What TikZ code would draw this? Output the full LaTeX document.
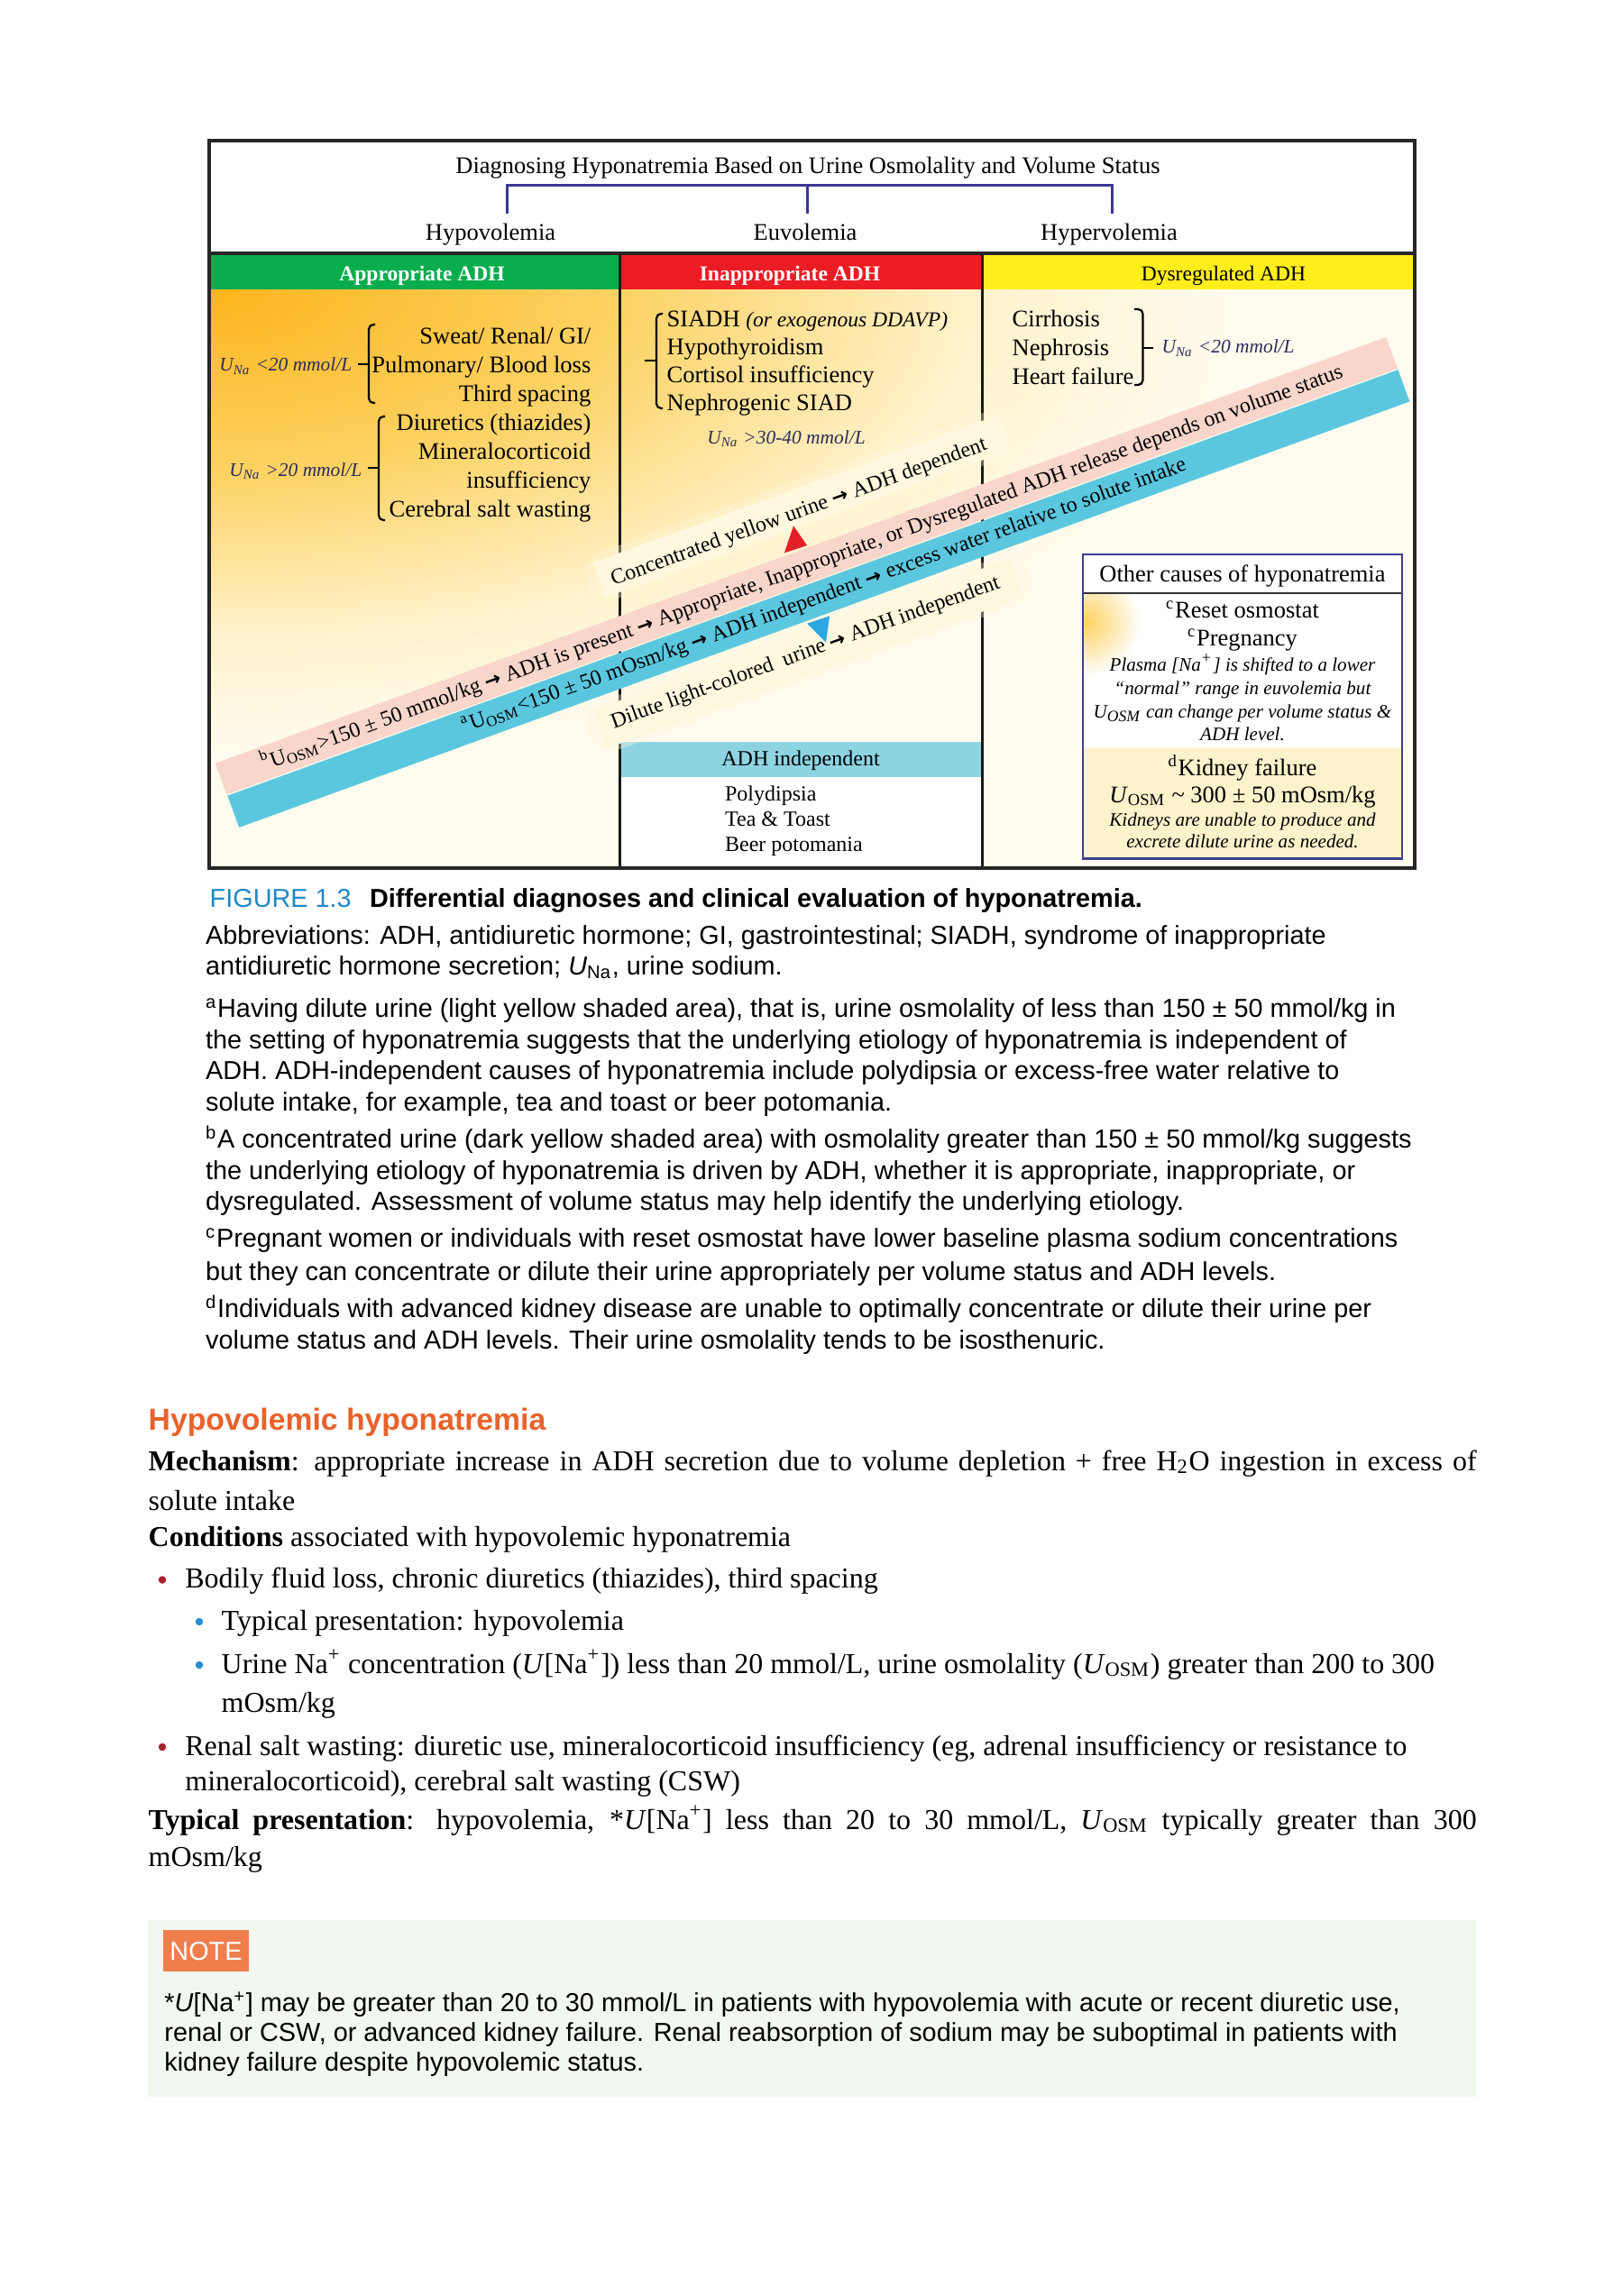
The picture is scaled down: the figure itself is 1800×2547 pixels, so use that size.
\documentclass[tikz,border=0pt]{standalone}
\usepackage{fontspec}
\setmainfont{Liberation Serif}
\setsansfont{Liberation Sans}
\newfontfamily\arrowfont{DejaVu Sans}

\definecolor{hdrgreen}{HTML}{0AAD4E}
\definecolor{hdrred}{HTML}{EC1C24}
\definecolor{hdryellow}{HTML}{FFEE1C}
\definecolor{glowA}{HTML}{FCB51C}
\definecolor{glowB}{HTML}{FDD263}
\definecolor{glowC}{HTML}{FFF2CC}
\definecolor{glowD}{HTML}{FFFBEE}
\definecolor{pinkband}{HTML}{F9D6CB}
\definecolor{cyanband}{HTML}{5BC7DF}
\definecolor{barcyan}{HTML}{8DD4E3}
\definecolor{palestrip}{HTML}{FFF8DE}
\definecolor{trired}{HTML}{E41E26}
\definecolor{triblue}{HTML}{2CA8E0}
\definecolor{bracketnavy}{HTML}{3A3794}
\definecolor{boxnavy}{HTML}{3F3F8F}
\definecolor{kidneybg}{HTML}{FCF2CB}
\definecolor{labelnavy}{HTML}{2C2C58}
\definecolor{figblue}{HTML}{1E88C8}
\definecolor{secorange}{HTML}{E8622B}
\definecolor{notebg}{HTML}{F2F7EF}
\definecolor{noteorange}{HTML}{F07E4D}
\definecolor{bulletred}{HTML}{A3222B}
\definecolor{bulletblue}{HTML}{2A8ED0}

\pgfdeclareradialshading{bodyglow}{\pgfpoint{0bp}{0bp}}{color(0bp)=(glowA); color(7.5bp)=(glowB); color(14.2bp)=(glowC); color(19bp)=(glowD); color(50bp)=(glowD)}

\newcommand{\dgmfont}{\fontsize{7.54}{9}\selectfont}
\newcommand{\hdrfont}{\fontsize{6.7}{8}\selectfont}
\newcommand{\bandfont}{\fontsize{6.83}{8}\selectfont}
\newcommand{\unafont}{\fontsize{6.1}{7}\selectfont\itshape}
\newcommand{\boxitfont}{\fontsize{6.0}{7}\selectfont\itshape}
\newcommand{\capfont}{\sffamily\fontsize{8.2}{9.8}\selectfont}
\newcommand{\bodyfont}{\fontsize{9.1}{11}\selectfont}
\newcommand{\sectfont}{\sffamily\bfseries\fontsize{9.6}{11}\selectfont}
\newcommand{\Uosm}{U\textsubscript{OSM}}
\newcommand{\Una}{U\textsubscript{Na}}
\newcommand{\rarr}{{\arrowfont\bfseries\fontsize{6.2}{7}\selectfont →}}

\begin{document}
\begin{tikzpicture}[x=0.1mm, y=-0.1mm,
  lbl/.style={inner sep=0pt, font=\dgmfont},
  hdr/.style={inner sep=0pt, font=\hdrfont, anchor=base},
  una/.style={inner sep=0pt, font=\unafont, text=labelnavy},
  bandtxt/.style={inner sep=0pt, font=\bandfont, anchor=base west},
  boxit/.style={inner sep=0pt, font=\boxitfont, anchor=base},
  captxt/.style={inner sep=0pt, font=\capfont, anchor=base west},
  bodytxt/.style={inner sep=0pt, font=\bodyfont, anchor=base west},
  brace/.style={line width=0.22mm, rounded corners=1.5},
  divline/.style={line width=0.3mm, draw=black!90},
  frame/.style={line width=0.4mm, draw=black!85},
  dotred/.style={circle, fill=bulletred, inner sep=0pt, minimum size=0.85mm},
  dotblue/.style={circle, fill=bulletblue, inner sep=0pt, minimum size=0.85mm}]
\useasboundingbox (0,0) rectangle (1800,2547);
\fill[white] (0,0) rectangle (1800,2547);

% header row
\fill[hdrgreen] (232,281) rectangle (687,322);
\fill[hdrred] (687,281) rectangle (1089,322);
\fill[hdryellow] (1089,281) rectangle (1569,322);

% shaded body, glow flattened vertically
\begin{scope}
  \clip (232,322) rectangle (1569,963);
  \fill[glowD] (232,322) rectangle (1569,963);
  \begin{scope}[transform canvas={yscale=0.45}]
    \shade[shading=bodyglow] (-1268,-784.4) rectangle (1732,2215.6);
  \end{scope}
\end{scope}
\fill[white] (687,862) rectangle (1089,963);
\fill[barcyan] (687,823) rectangle (1089,862);

\draw[divline] (687,281) -- (687,963);
\draw[divline] (1089,281) -- (1089,963);

% title and volume status
\node[lbl, anchor=base] (title) at (896,193) {Diagnosing Hyponatremia Based on Urine Osmolality and Volume Status};
\node[lbl, anchor=base] (hypo) at (544,267) {Hypovolemia};
\node[lbl, anchor=base] (euvo) at (893,267) {Euvolemia};
\node[lbl, anchor=base] (hyper) at (1230,267) {Hypervolemia};
\coordinate (brl) at (562,206);
\coordinate (brm) at (895,206);
\coordinate (brr) at (1233,206);
\draw[bracketnavy, line width=0.3mm] (562,237) -- (brl) -- (brr) -- (1233,237);
\draw[bracketnavy, line width=0.3mm] (brm) -- (895,237);

\node[hdr, text=white, font=\hdrfont\bfseries] (appr) at (468,311.5) {Appropriate ADH};
\node[hdr, text=white, font=\hdrfont\bfseries] (inappr) at (876,311.5) {Inappropriate ADH};
\node[hdr] (dysreg) at (1357,311.5) {Dysregulated ADH};

% appropriate ADH column
\node[lbl, anchor=base east] (sweat) at (656,381.5) {Sweat/ Renal/ GI/};
\node[lbl, anchor=base east] (pulm) at (656,413.5) {Pulmonary/ Blood loss};
\node[lbl, anchor=base east] (third) at (656,445.5) {Third spacing};
\node[lbl, anchor=base east] (diur) at (656,477.5) {Diuretics (thiazides)};
\node[lbl, anchor=base east] (miner) at (656,509.5) {Mineralocorticoid};
\node[lbl, anchor=base east] (insuf) at (656,541.5) {insufficiency};
\node[lbl, anchor=base east] (cereb) at (656,573.5) {Cerebral salt wasting};
\draw[brace] (416,360) -- (409,360) -- (409,447) -- (416,447);
\draw[brace] (409,404) -- (397,404);
\node[una, anchor=base east] (unalow) at (391,411.7) {\Una{} <20 mmol/L};
\draw[brace] (427,462) -- (420,462) -- (420,577) -- (427,577);
\draw[brace] (420,519) -- (408,519);
\node[una, anchor=base east] (unahigh) at (402,528) {\Una{} >20 mmol/L};

% inappropriate ADH column
\node[lbl, anchor=base west] (siadh) at (739,362.7) {SIADH {\hdrfont\itshape (or exogenous DDAVP)}};
\node[lbl, anchor=base west] (thyro) at (739,393.7) {Hypothyroidism};
\node[lbl, anchor=base west] (cortis) at (739,424.7) {Cortisol insufficiency};
\node[lbl, anchor=base west] (siad) at (739,455.7) {Nephrogenic SIAD};
\draw[brace] (735,348) -- (728,348) -- (728,453) -- (735,453);
\draw[brace] (728,400) -- (715,400);
\node[una, anchor=base] (unamid) at (872,492) {\Una{} >30-40 mmol/L};

% dysregulated ADH column
\node[lbl, anchor=base west] (cirr) at (1122,362.7) {Cirrhosis};
\node[lbl, anchor=base west] (nephr) at (1122,394.3) {Nephrosis};
\node[lbl, anchor=base west] (heart) at (1122,426) {Heart failure};
\draw[brace] (1258,343) -- (1267.5,343) -- (1267.5,427) -- (1258,427);
\draw[brace] (1267.5,386) -- (1279,386);
\node[una, anchor=base west] (unaright) at (1288,391.7) {\Una{} <20 mmol/L};

% ADH independent causes
\node[inner sep=0pt, font=\bandfont, anchor=base] (adhind) at (888,849.3) {ADH independent};
\node[inner sep=0pt, font=\bandfont, anchor=base west] (polyd) at (803.4,888) {Polydipsia};
\node[inner sep=0pt, font=\bandfont, anchor=base west] (teatoast) at (803.4,916) {Tea \& Toast};
\node[inner sep=0pt, font=\bandfont, anchor=base west] (beer) at (803.4,944) {Beer potomania};

% other causes box
\fill[white] (1201,615) rectangle (1555,830);
\begin{scope}
  \clip (1201,658) rectangle (1555,830);
  \shade[inner color=glowB, outer color=white] (1145,630) rectangle (1265,750);
\end{scope}
\fill[kidneybg] (1201,830) rectangle (1555,952.7);
\draw[black!80, line width=0.25mm] (1201,658) -- (1555,658);
\draw[boxnavy, line width=0.25mm] (1201,615) rectangle (1555,952.7);
\node[lbl, anchor=base] (othert) at (1378,645) {Other causes of hyponatremia};
\node[lbl, anchor=base] (reset) at (1378,685) {\textsuperscript{c}Reset osmostat};
\node[lbl, anchor=base] (preg) at (1378,716.7) {\textsuperscript{c}Pregnancy};
\node[boxit] (plasma1) at (1378,744) {Plasma [Na\textsuperscript{+}] is shifted to a lower};
\node[boxit] (plasma2) at (1378,770) {“normal” range in euvolemia but};
\node[boxit] (plasma3) at (1378,796) {\Uosm{} can change per volume status \&};
\node[boxit] (plasma4) at (1378,821.7) {ADH level.};
\node[lbl, anchor=base] (kidney) at (1378,860) {\textsuperscript{d}Kidney failure};
\node[lbl, anchor=base] (kidosm) at (1378,890) {\textit{U}\textsubscript{OSM} \textasciitilde{} 300 ± 50 mOsm/kg};
\node[boxit] (kid1) at (1378,916) {Kidneys are unable to produce and};
\node[boxit] (kid2) at (1378,940.7) {excrete dilute urine as needed.};

% diagonal bands
\begin{scope}[shift={(238.7,846.7)}, rotate=20, transform shape]
  \fill[palestrip, opacity=.35, rounded corners=8] (455,-74) rectangle (965,-19);
  \fill[palestrip] (470,-66) rectangle (950,-25);
  \fill[palestrip, opacity=.35, rounded corners=8] (400,82) rectangle (920,139);
  \fill[palestrip] (415,88) rectangle (905,133);
  \fill[pinkband] (0,0) rectangle (1382,37);
  \fill[cyanband] (0.5,38.5) rectangle (1382,76);
  \fill[trired] (673,-3.4) -- (699.4,-2.6) -- (692.7,-28.2) -- cycle;
  \fill[triblue] (669.7,78.8) -- (696.1,79.5) -- (682.3,105.7) -- cycle;
  \node[bandtxt] (hightxt) at (48,26) {\textsuperscript{b}\Uosm>150 ± 50 mmol/kg \rarr{} ADH is present \rarr{} Appropriate, Inappropriate, or Dysregulated ADH release depends on volume status};
  \node[bandtxt] (lowtxt) at (271,63) {\textsuperscript{a}\Uosm<150 ± 50 mOsm/kg \rarr{} ADH independent \rarr{} excess water relative to solute intake};
  \node[bandtxt] (conctxt) at (482,-34) {Concentrated yellow urine \rarr{} ADH dependent};
  \node[bandtxt] (diltxt) at (428,115) {Dilute light-colored\ \ urine \rarr{} ADH independent};
\end{scope}

\draw[frame] (232,156) rectangle (1569,963);
\draw[frame] (232,281) -- (1569,281);

% caption
\node[captxt, text=figblue] (figlbl) at (232,1006) {FIGURE 1.3};
\node[captxt, font=\capfont\bfseries] (figtitle) at (409.4,1006) {Differential diagnoses and clinical evaluation of hyponatremia.};
\node[captxt] (abbr1) at (227.5,1047.6) {Abbreviations: ADH, antidiuretic hormone; GI, gastrointestinal; SIADH, syndrome of inappropriate};
\node[captxt] (abbr2) at (227.5,1081) {antidiuretic hormone secretion; \textit{U}\textsubscript{Na}, urine sodium.};
\node[captxt] (fna1) at (227.5,1128.6) {\textsuperscript{a}Having dilute urine (light yellow shaded area), that is, urine osmolality of less than 150 ± 50 mmol/kg in};
\node[captxt] (fna2) at (227.5,1163) {the setting of hyponatremia suggests that the underlying etiology of hyponatremia is independent of};
\node[captxt] (fna3) at (227.5,1197.6) {ADH. ADH-independent causes of hyponatremia include polydipsia or excess-free water relative to};
\node[captxt] (fna4) at (227.5,1232) {solute intake, for example, tea and toast or beer potomania.};
\node[captxt] (fnb1) at (227.5,1273.4) {\textsuperscript{b}A concentrated urine (dark yellow shaded area) with osmolality greater than 150 ± 50 mmol/kg suggests};
\node[captxt] (fnb2) at (227.5,1308) {the underlying etiology of hyponatremia is driven by ADH, whether it is appropriate, inappropriate, or};
\node[captxt] (fnb3) at (227.5,1342) {dysregulated. Assessment of volume status may help identify the underlying etiology.};
\node[captxt] (fnc1) at (227.5,1383.8) {\textsuperscript{c}Pregnant women or individuals with reset osmostat have lower baseline plasma sodium concentrations};
\node[captxt] (fnc2) at (227.5,1420) {but they can concentrate or dilute their urine appropriately per volume status and ADH levels.};
\node[captxt] (fnd1) at (227.5,1461.4) {\textsuperscript{d}Individuals with advanced kidney disease are unable to optimally concentrate or dilute their urine per};
\node[captxt] (fnd2) at (227.5,1496) {volume status and ADH levels. Their urine osmolality tends to be isosthenuric.};

% text section
\node[bodytxt, font=\sectfont, text=secorange] (sechead) at (164,1586.4) {Hypovolemic hyponatremia};
\node[bodytxt] (mech1) at (164,1631) {\makebox[147.3mm][s]{\textbf{Mechanism}: appropriate increase in ADH secretion due to volume depletion + free H\textsubscript{2}O ingestion in excess of}};
\node[bodytxt] (mech2) at (164,1675.7) {solute intake};
\node[bodytxt] (cond) at (164,1715) {\textbf{Conditions} associated with hypovolemic hyponatremia};
\node[dotred] (dot1) at (180,1752.5) {};
\node[bodytxt] (item1) at (204.7,1761.4) {Bodily fluid loss, chronic diuretics (thiazides), third spacing};
\node[dotblue] (dot2) at (221,1799) {};
\node[bodytxt] (item2) at (245,1808) {Typical presentation: hypovolemia};
\node[dotblue] (dot3) at (221,1847) {};
\node[bodytxt] (item3) at (245,1856) {Urine Na\textsuperscript{+} concentration (\textit{U}[Na\textsuperscript{+}]) less than 20 mmol/L, urine osmolality (\textit{U}\textsubscript{OSM}) greater than 200 to 300};
\node[bodytxt] (item3b) at (245,1899) {mOsm/kg};
\node[dotred] (dot4) at (180,1938) {};
\node[bodytxt] (item4) at (204.7,1947) {Renal salt wasting: diuretic use, mineralocorticoid insufficiency (eg, adrenal insufficiency or resistance to};
\node[bodytxt] (item4b) at (204.7,1986.4) {mineralocorticoid), cerebral salt wasting (CSW)};
\node[bodytxt] (typ1) at (164,2029) {\makebox[147.3mm][s]{\textbf{Typical presentation}: hypovolemia, *\textit{U}[Na\textsuperscript{+}] less than 20 to 30 mmol/L, \textit{U}\textsubscript{OSM} typically greater than 300}};
\node[bodytxt] (typ2) at (164,2070.4) {mOsm/kg};

% note
\fill[notebg] (164,2130) rectangle (1637,2326);
\fill[noteorange] (181,2141) rectangle (276,2187);
\node[captxt, anchor=base, text=white] (notelbl) at (228.5,2174) {NOTE};
\node[captxt] (note1) at (181.7,2231) {*\textit{U}[Na\textsuperscript{+}] may be greater than 20 to 30 mmol/L in patients with hypovolemia with acute or recent diuretic use,};
\node[captxt] (note2) at (181.7,2264.5) {renal or CSW, or advanced kidney failure. Renal reabsorption of sodium may be suboptimal in patients with};
\node[captxt] (note3) at (181.7,2297) {kidney failure despite hypovolemic status.};
\end{tikzpicture}
\end{document}
